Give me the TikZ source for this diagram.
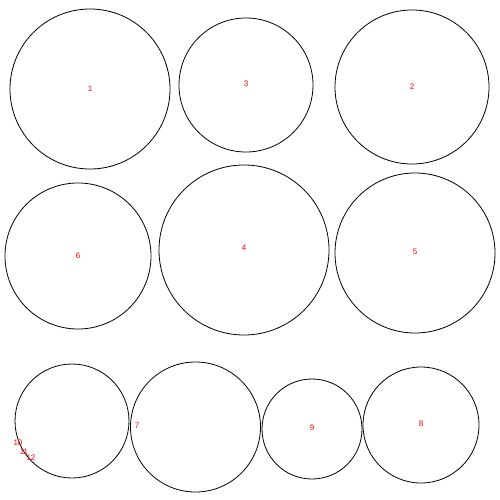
\documentclass[tikz,border=0pt]{standalone}
\usepackage{fontspec}
\setmainfont{Liberation Sans}
\begin{document}
\begin{tikzpicture}[x=1pt,y=-1pt,
  disc/.style={draw=black,line width=0.8pt,circle,inner sep=0pt,minimum size=#1},
  lab/.style={text=red,font=\fontsize{8}{9}\selectfont,inner sep=0pt}]
\useasboundingbox (0,0) rectangle (500,500);
\node[disc=160pt] (c1) at (90,89) {};
\node[disc=134pt] (c3) at (246,85) {};
\node[disc=154pt] (c2) at (412,87) {};
\node[disc=146pt] (c6) at (78,256) {};
\node[disc=170pt] (c4) at (244,250) {};
\node[disc=160pt] (c5) at (415,253) {};
\node[disc=114pt] (c10) at (72,421) {};
\node[disc=130pt] (c7) at (195.5,427) {};
\node[disc=100pt] (c9) at (312,429) {};
\node[disc=116pt] (c8) at (421,425) {};
\node[lab] (l1) at (90,89) {1};
\node[lab] (l3) at (246,84) {3};
\node[lab] (l2) at (412,87) {2};
\node[lab] (l6) at (78,256) {6};
\node[lab] (l4) at (244,248) {4};
\node[lab] (l5) at (415,252) {5};
\node[lab] (l7) at (137,426) {7};
\node[lab] (l9) at (312,428) {9};
\node[lab] (l8) at (421,424) {8};
\node[lab] (l10) at (18,443) {10};
\node[lab] (l11) at (24,452) {11};
\node[lab] (l12) at (31,458) {12};
\end{tikzpicture}
\end{document}
